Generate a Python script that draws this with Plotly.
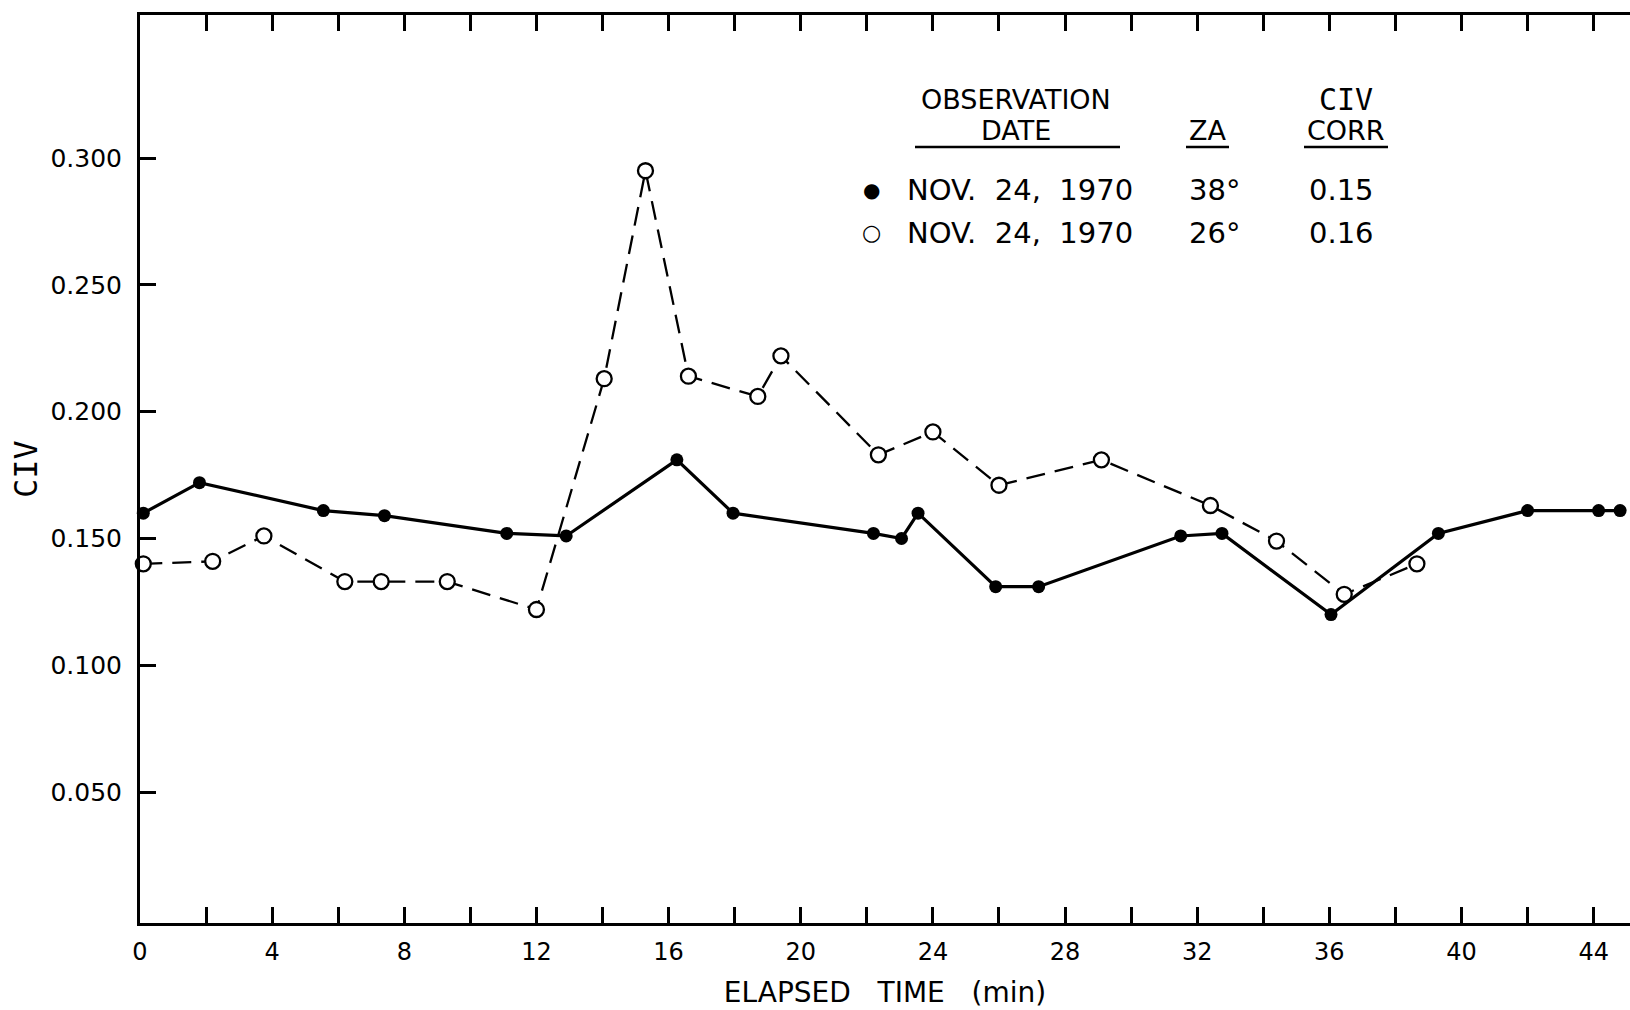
import plotly.graph_objects as go

# ---- data ----
time_filled = [0.1, 1.8, 5.55, 7.4, 11.1, 12.9, 16.25, 17.95, 22.2, 23.05, 23.55,
               25.9, 27.2, 31.5, 32.75, 36.05, 39.3, 42.0, 44.15, 44.8]
civ_filled = [0.160, 0.172, 0.161, 0.159, 0.152, 0.151, 0.181, 0.160, 0.152, 0.150, 0.160,
              0.131, 0.131, 0.151, 0.152, 0.120, 0.152, 0.161, 0.161, 0.161]

time_open = [0.1, 2.2, 3.75, 6.2, 7.3, 9.3, 12.0, 14.05, 15.3, 16.6, 18.7, 19.4,
             22.35, 24.0, 26.0, 29.1, 32.4, 34.4, 36.45, 38.65]
civ_open = [0.140, 0.141, 0.151, 0.133, 0.133, 0.133, 0.122, 0.213, 0.295, 0.214, 0.206, 0.222,
            0.183, 0.192, 0.171, 0.181, 0.163, 0.149, 0.128, 0.140]

x_tick_vals = list(range(0, 46, 2))
x_tick_text = [str(v) if v % 4 == 0 else "" for v in x_tick_vals]
y_tick_vals = [0.05, 0.10, 0.15, 0.20, 0.25, 0.30]
y_tick_text = ["0.050", "0.100", "0.150", "0.200", "0.250", "0.300"]

legend_dates = ["NOV.  24,  1970", "NOV.  24,  1970"]
legend_za = ["38°", "26°"]
legend_corr = ["0.15", "0.16"]
legend_symbols = ["●", "○"]

# ---- layout geometry (pixels) ----
W, H = 1630, 1010
ML, MR, MT, MB = 140, 0, 15, 87
FONT = "DejaVu Sans"


def px(x):
    return (x - ML) / (W - ML - MR)


def py(y):
    return 1 - (y - MT) / (H - MT - MB)


fig = go.Figure()
fig.add_trace(go.Scatter(
    x=time_open, y=civ_open, mode="lines+markers", name="NOV. 24, 1970 (26°)",
    line=dict(color="black", width=2.3, dash="19px,10px"),
    marker=dict(symbol="circle", size=15, color="white", line=dict(color="black", width=2.3)),
    showlegend=False, cliponaxis=False,
))
fig.add_trace(go.Scatter(
    x=time_filled, y=civ_filled, mode="lines+markers", name="NOV. 24, 1970 (38°)",
    line=dict(color="black", width=3.2),
    marker=dict(symbol="circle", size=13, color="black"),
    showlegend=False, cliponaxis=False,
))

fig.update_layout(
    width=W, height=H,
    margin=dict(l=ML, r=MR, t=MT, b=MB),
    paper_bgcolor="white", plot_bgcolor="white",
    font=dict(family=FONT, size=25, color="black"),
    xaxis=dict(
        range=[0, 45.1], tickvals=x_tick_vals, ticktext=x_tick_text,
        ticks="inside", ticklen=16, tickwidth=3, tickcolor="black",
        showline=True, linewidth=3, linecolor="black", mirror="ticks",
        showgrid=False, zeroline=False, ticklabelstandoff=5,
        tickfont=dict(family=FONT, size=24),
        title=dict(text="ELAPSED   TIME   (min)", standoff=18,
                   font=dict(family=FONT, size=28)),
    ),
    yaxis=dict(
        range=[-0.0016, 0.3564], tickvals=y_tick_vals, ticktext=y_tick_text,
        ticks="inside", ticklen=16, tickwidth=3, tickcolor="black",
        showline=True, linewidth=3, linecolor="black", mirror=False,
        showgrid=False, zeroline=False, ticklabelstandoff=10,
        tickfont=dict(family=FONT, size=25),
        title=dict(text="CIV", standoff=4,
                   font=dict(family="DejaVu Sans Mono", size=32)),
    ),
    yaxis2=dict(
        overlaying="y", side="right", anchor="x",
        range=[-0.0016, 0.3564], tickvals=y_tick_vals,
        ticks="inside", ticklen=12, tickwidth=3, tickcolor="black",
        showticklabels=False, showline=False, showgrid=False, zeroline=False,
    ),
)

ann = []
shapes = []
hdr_font = dict(family=FONT, size=27, color="black")
ann.append(dict(text="OBSERVATION", x=px(1016), y=py(99)))
ann.append(dict(text="DATE", x=px(1016), y=py(130)))
ann.append(dict(text="ZA", x=px(1207), y=py(130)))
ann.append(dict(text="CIV", x=px(1346), y=py(99), font=dict(family="DejaVu Sans Mono", size=30, color="black")))
ann.append(dict(text="CORR", x=px(1346), y=py(130)))
for (x0, x1) in [(915, 1120), (1186, 1229), (1304, 1388)]:
    shapes.append(dict(type="line", xref="paper", yref="paper",
                       x0=px(x0), x1=px(x1), y0=py(147), y1=py(147),
                       line=dict(color="black", width=2.5)))
row_y = [190, 233]
for i in range(2):
    ann.append(dict(text=legend_symbols[i], x=px(871), y=py(row_y[i]),
                    font=dict(family=FONT, size=20 if i == 0 else 22, color="black")))
    ann.append(dict(text=legend_dates[i], x=px(905), y=py(row_y[i]), xanchor="left",
                    font=dict(family=FONT, size=29, color="black")))
    ann.append(dict(text=legend_za[i], x=px(1214), y=py(row_y[i]),
                    font=dict(family=FONT, size=29, color="black")))
    ann.append(dict(text=legend_corr[i], x=px(1341), y=py(row_y[i]),
                    font=dict(family=FONT, size=29, color="black")))

for a in ann:
    a.setdefault("font", hdr_font)
    a.setdefault("xanchor", "center")
    a.update(xref="paper", yref="paper", yanchor="middle", showarrow=False)

fig.update_layout(annotations=ann, shapes=shapes)

fig.write_html("out.html")
